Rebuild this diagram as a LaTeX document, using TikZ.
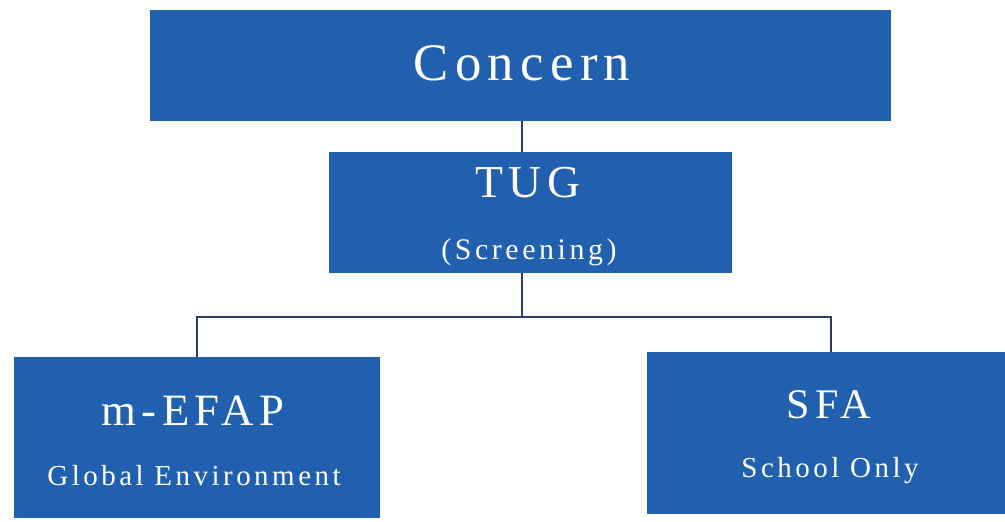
\documentclass[tikz,border=0pt]{standalone}
\usepackage{fontspec}
\newfontfamily\cajafont[LetterSpace=12]{Liberation Serif}
\definecolor{azul caja}{RGB}{33,96,175}
\definecolor{linea}{RGB}{45,62,98}

\begin{document}
\begin{tikzpicture}
\tikzstyle{caja}=[draw=none,fill=azul caja,inner sep=0pt]
\tikzstyle{texto caja}=[text=white,anchor=base,inner sep=0pt]
\tikzstyle{conector}=[draw=linea,line width=1.1pt]

\useasboundingbox (0,0) rectangle (20.1,-10.42);

% cajas
\node[caja,minimum width=14.82cm,minimum height=2.22cm] (concern) at (10.41,-1.31) {};
\node[caja,minimum width=8.06cm,minimum height=2.42cm] (tug) at (10.61,-4.25) {};
\node[caja,minimum width=7.32cm,minimum height=3.22cm] (mefap) at (3.94,-8.75) {};
\node[caja,minimum width=7.16cm,minimum height=3.24cm] (sfa) at (16.52,-8.66) {};

% textos
\node[texto caja,font=\cajafont\fontsize{30}{36}\selectfont] (t concern) at (10.44,-1.60) {Concern};
\node[texto caja,font=\cajafont\fontsize{26}{31}\selectfont] (t tug) at (10.56,-3.94) {TUG};
\node[texto caja,font=\cajafont\fontsize{17}{20}\selectfont] (t screening) at (10.58,-5.18) {(Screening)};
\node[texto caja,font=\cajafont\fontsize{25.5}{30}\selectfont] (t mefap) at (3.86,-8.50) {m-EFAP};
\node[texto caja,font=\cajafont\fontsize{16.5}{20}\selectfont] (t global) at (3.88,-9.70) {Global Environment};
\node[texto caja,font=\cajafont\fontsize{24}{29}\selectfont] (t sfa) at (16.58,-8.36) {SFA};
\node[texto caja,font=\cajafont\fontsize{16.5}{20}\selectfont] (t school) at (16.60,-9.54) {School Only};

% conectores
\coordinate (ramal) at (10.44,-6.34);
\draw[conector] (concern.south -| ramal) -- (tug.north -| ramal);
\draw[conector] (tug.south -| ramal) -- (ramal);
\draw[conector] (ramal) -| (mefap.north);
\draw[conector] (ramal) -| ([xshift=0.1cm]sfa.north);
\end{tikzpicture}
\end{document}
